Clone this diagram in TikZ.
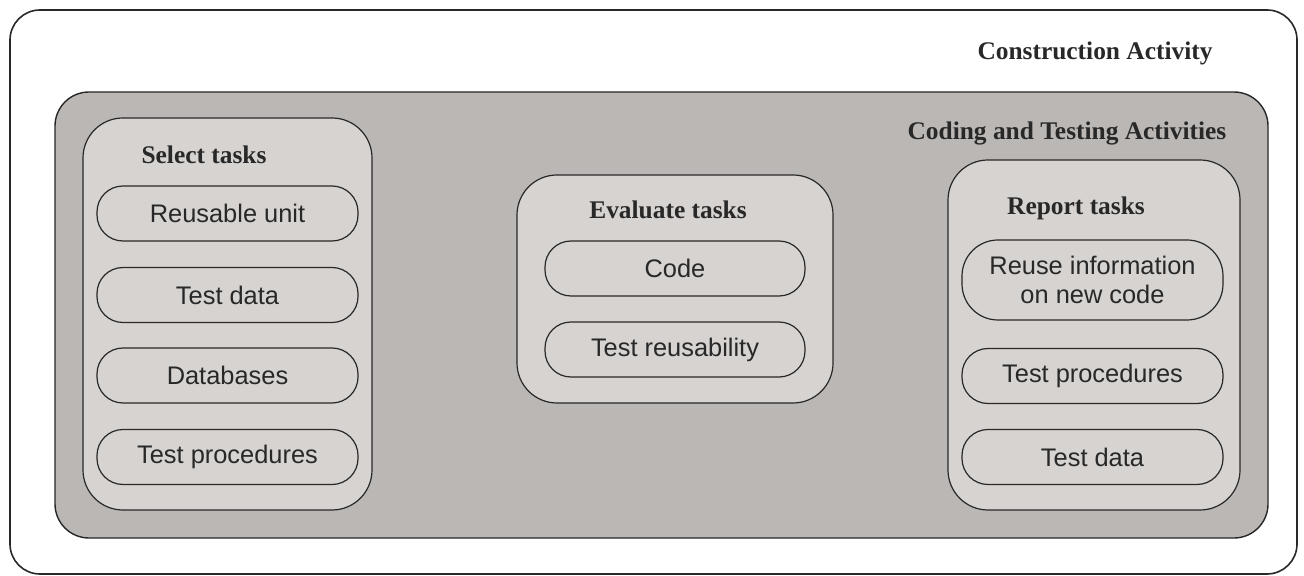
\documentclass[tikz,border=0pt]{standalone}
\usepackage{fontspec}
\setmainfont{Liberation Serif}
\newfontfamily\itemfont{Liberation Sans}
\definecolor{panelgray}{RGB}{186,183,181}
\definecolor{boxgray}{RGB}{214,211,209}
\definecolor{inkc}{RGB}{40,40,40}
\begin{document}
\begin{tikzpicture}[x=0.5pt,y=-0.5pt,
  outerbox/.style={draw=inkc,line width=0.8pt,rounded corners=15pt,rectangle,inner sep=0pt},
  panelbox/.style={draw=inkc,line width=0.7pt,fill=panelgray,rounded corners=17pt,rectangle,inner sep=0pt},
  groupbox/.style={draw=inkc,line width=0.6pt,fill=boxgray,rounded corners=20pt,rectangle,inner sep=0pt},
  itembox/.style={draw=inkc,line width=0.6pt,fill=boxgray,rounded corners=13pt,rectangle,inner sep=0pt,
     minimum width=130.5pt,minimum height=27.5pt,font=\itemfont\fontsize{12.7}{14.5}\selectfont,text=inkc,align=center},
  title/.style={font=\bfseries\fontsize{12.7}{15}\selectfont,text=inkc,inner sep=0pt}
]
\useasboundingbox (0,0) rectangle (1304,576);
\node[outerbox,minimum width=643.5pt,minimum height=282pt] (outer) at (653.5,292) {};
\node[panelbox,minimum width=606.5pt,minimum height=223pt] (panel) at (661.5,315) {};
\node[title] (construction) at (1095,53) {Construction Activity};
\node[title] (coding) at (1067,133) {Coding and Testing Activities};
% select
\node[groupbox,minimum width=144.5pt,minimum height=196pt] (select) at (227.5,314) {};
\node[title] (selectt) at (204,155) {Select tasks};
\node[itembox] (s1) at (227.5,213.5) {Reusable unit};
\node[itembox] (s2) at (227.5,295) {Test data};
\node[itembox] (s3) at (227.5,375.5) {Databases};
\node[itembox] (s4) at (227.5,457) {Test procedures};
% evaluate
\node[groupbox,minimum width=158pt,minimum height=114pt] (eval) at (675,289) {};
\node[title] (evalt) at (668,210) {Evaluate tasks};
\node[itembox,minimum width=130pt] (e1) at (675,268.5) {Code};
\node[itembox,minimum width=130pt] (e2) at (675,349.5) {Test reusability};
% report
\node[groupbox,minimum width=146pt,minimum height=175pt] (report) at (1094,335) {};
\node[title] (reportt) at (1076,208) {Report tasks};
\node[itembox,minimum height=40pt,rounded corners=18pt] (r1) at (1092.5,280) {Reuse information\\on new code};
\node[itembox] (r2) at (1092.5,376) {Test procedures};
\node[itembox] (r3) at (1092.5,457) {Test data};
\end{tikzpicture}
\end{document}
